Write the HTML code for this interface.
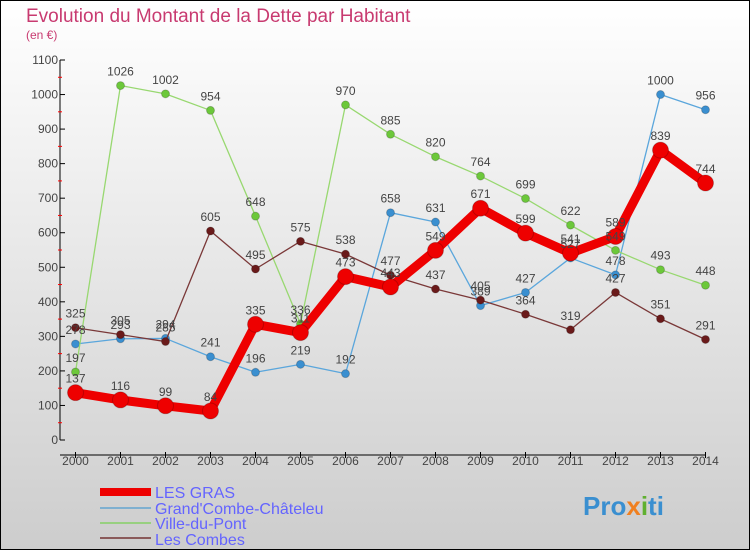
<!DOCTYPE html>
<html><head><meta charset="utf-8"><style>
body{margin:0;}
#wrap{position:relative;width:750px;height:550px;}
svg{display:block;font-family:"Liberation Sans",sans-serif;}
</style></head><body>
<div id="wrap">
<svg id="chart" width="750" height="550">
<defs><linearGradient id="bg" x1="0" y1="0" x2="0" y2="1"><stop offset="0" stop-color="#ffffff"/><stop offset="1" stop-color="#cdcdcd"/></linearGradient></defs>
<rect x="0.5" y="0.5" width="749" height="549" fill="url(#bg)" stroke="#000"/>
<text x="26" y="22" font-size="19" fill="#c83a70">Evolution du Montant de la Dette par Habitant</text>
<text x="26" y="39" font-size="12" fill="#c83a70">(en €)</text>
<g id="axes"></g><g id="series"></g><g id="labels"></g>
<g>
<rect x="100" y="488" width="51" height="8" fill="#ee0000"/>
<text x="155" y="498" font-size="16" fill="#6464ff">LES GRAS</text>
<rect x="100" y="507" width="51" height="2" fill="#7fb0d0"/>
<text x="155" y="514" font-size="16" fill="#6464ff">Grand'Combe-Châteleu</text>
<rect x="100" y="522" width="51" height="2" fill="#98d080"/>
<text x="155" y="529" font-size="16" fill="#6464ff">Ville-du-Pont</text>
<rect x="100" y="537" width="51" height="2" fill="#8a5a5a"/>
<text x="155" y="545" font-size="16" fill="#6464ff">Les Combes</text>
</g>
<text x="583" y="515" font-size="26" font-weight="bold" fill="#3a8fd0">Pro<tspan fill="#f08020">x</tspan><tspan fill="#60b030">i</tspan>ti</text>
</svg></div>
<script>
const years=[2000,2001,2002,2003,2004,2005,2006,2007,2008,2009,2010,2011,2012,2013,2014];
const lesGras=[137,116,99,84,335,311,473,443,549,671,599,541,589,839,744];
const grandCombe=[278,293,294,241,196,219,192,658,631,389,427,527,478,1000,956];
const villeDuPont=[197,1026,1002,954,648,336,970,885,820,764,699,622,549,493,448];
const lesCombes=[325,305,285,605,495,575,538,477,437,405,364,319,427,351,291];
const yTicks=[0,100,200,300,400,500,600,700,800,900,1000,1100];
const NS="http://www.w3.org/2000/svg";
const xS=i=>75.5+i*45;
const yS=v=>440-v*(380/1100);
function mk(t,a,p){const e=document.createElementNS(NS,t);for(const k in a)e.setAttribute(k,a[k]);p.appendChild(e);return e;}
const ax=document.getElementById('axes');
const yl=mk('line',{x1:60,y1:60,x2:60,y2:440,stroke:'#000'},ax);


const xl=mk('line',{x1:60,y1:455,x2:706,y2:455,stroke:'#000'},ax);


yTicks.forEach((v,i)=>{
 mk('line',{x1:60,y1:yS(v),x2:65,y2:yS(v),stroke:'#000'},ax);
 if(i<yTicks.length-1) mk('line',{x1:58,y1:yS(v+50),x2:62,y2:yS(v+50),stroke:'#f00'},ax);
 const t=mk('text',{x:58,y:yS(v)+4,'font-size':12,fill:'#444','text-anchor':'end'},ax);
 t.textContent=v;
 
 
});
years.forEach((y,i)=>{
 mk('line',{x1:xS(i),y1:452,x2:xS(i),y2:458,stroke:'#000'},ax);
 const t=mk('text',{x:xS(i),y:465,'font-size':12,fill:'#444','text-anchor':'middle'},ax);
 t.textContent=y;
 
 
});
const sg=document.getElementById('series'),lg=document.getElementById('labels');
function draw(data,name,col,dot,w,r){
 const g=mk('g',{},sg);
 
 
 const pl=mk('polyline',{points:data.map((v,i)=>xS(i)+','+yS(v)).join(' '),fill:'none',stroke:col,'stroke-width':w,'stroke-linejoin':'round'},g);
 
 
 data.forEach((v,i)=>{
  const c=mk('circle',{cx:xS(i),cy:yS(v),r:r,fill:dot,stroke:'rgba(0,0,0,0.2)'},g);
  
  
  const t=mk('text',{x:xS(i),y:yS(v)-10,'font-size':12,fill:'#444','text-anchor':'middle'},lg);
  t.textContent=v;
  
  
 });
}
draw(grandCombe,'grand-combe','#5aa6dc','#3a8fd0',1.3,4);
draw(villeDuPont,'ville-du-pont','#98d870','#6cc83a',1.3,4);
draw(lesCombes,'les-combes','#7a3838','#6a1a1a',1.3,4);
draw(lesGras,'les-gras','#ee0000','#ee0000',9,8);
</script>
</body></html>
